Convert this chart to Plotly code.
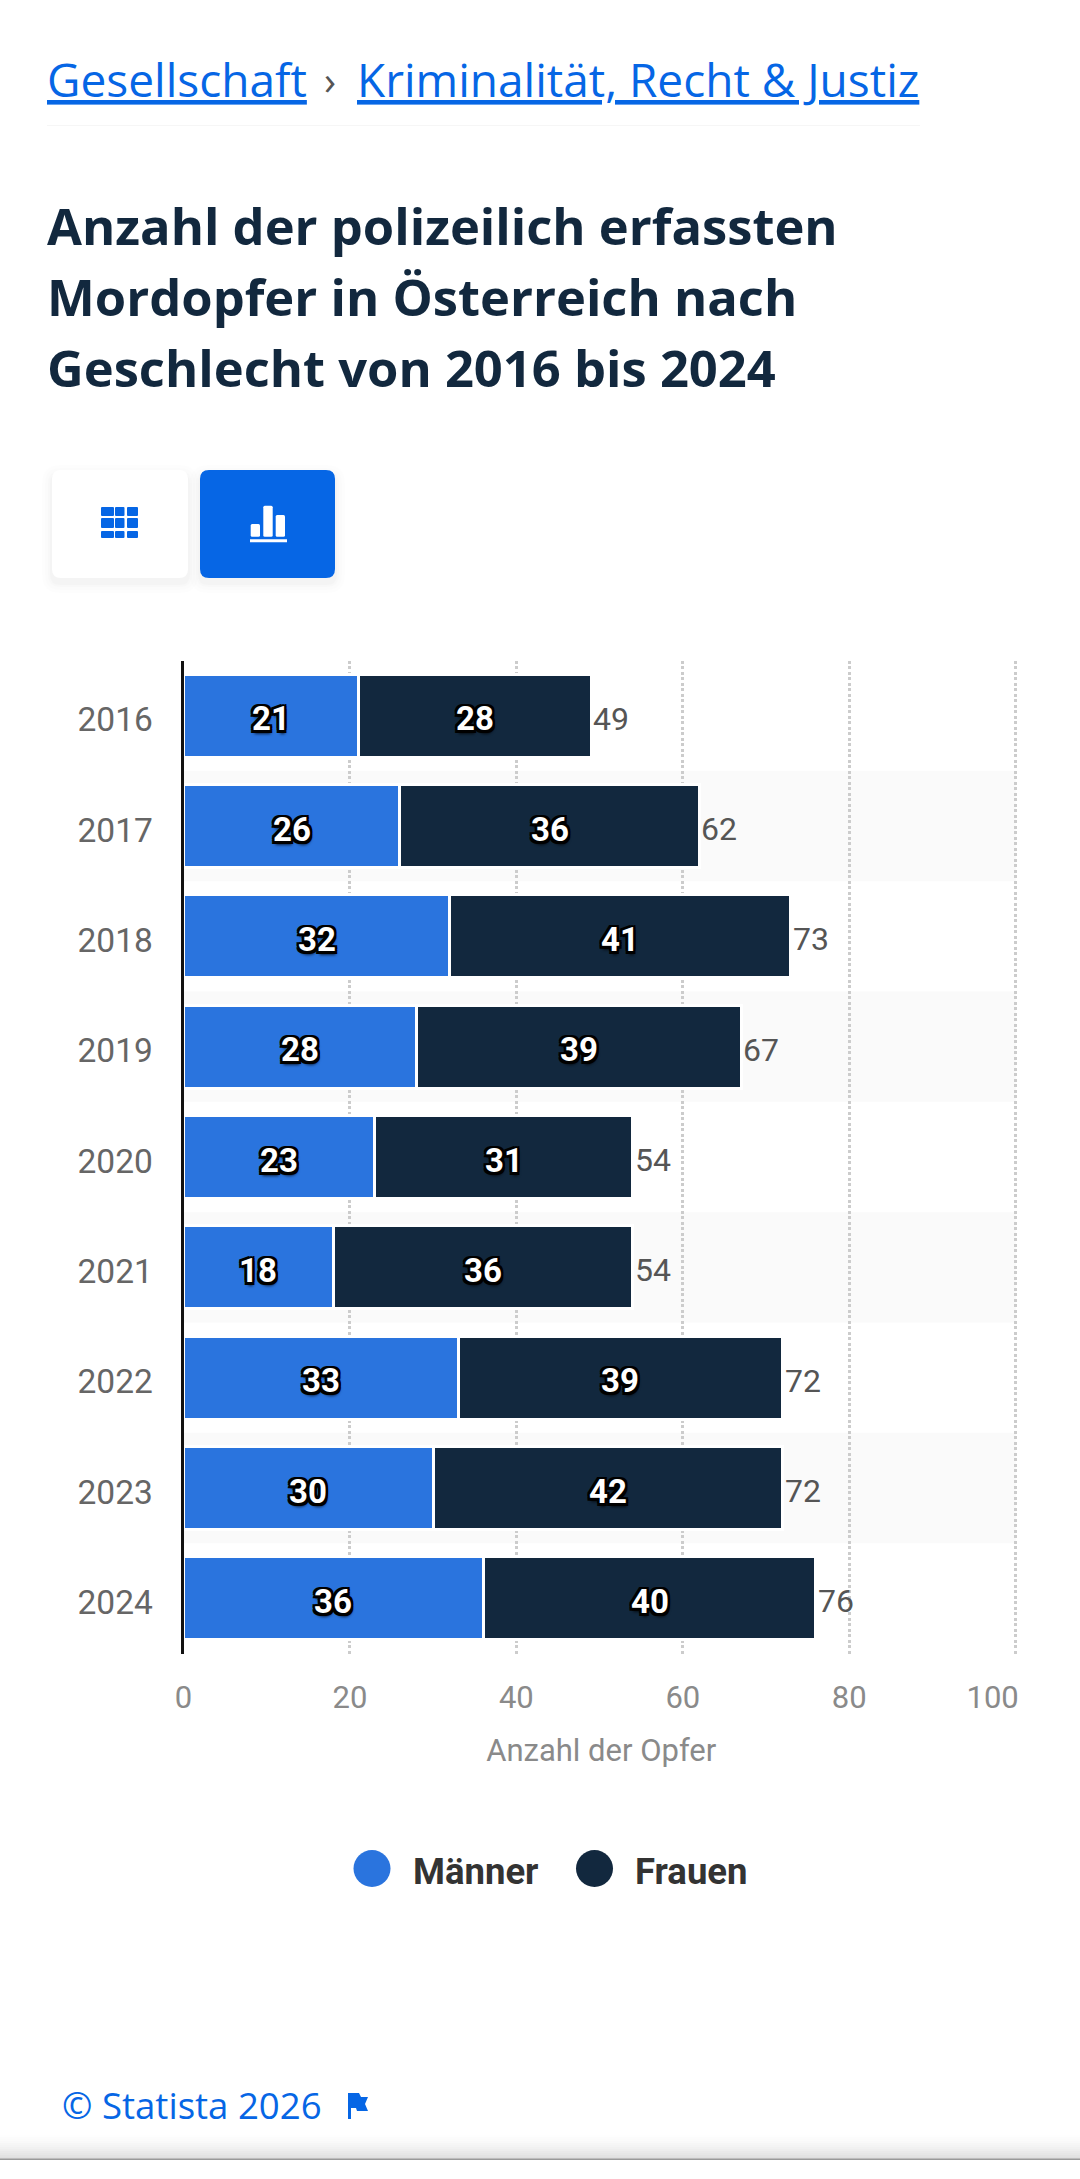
import plotly.graph_objects as go

YEARS = ["2016", "2017", "2018", "2019", "2020", "2021", "2022", "2023", "2024"]
MAENNER = [21, 26, 32, 28, 23, 18, 33, 30, 36]
FRAUEN = [28, 36, 41, 39, 31, 36, 39, 42, 40]
TOTALS = [49, 62, 73, 67, 54, 54, 72, 72, 76]
X_TICKS = [0, 20, 40, 60, 80, 100]
X_TICK_LABELS = ["0", "20", "40", "60", "80", "100" + "\u00a0" * 6]
SERIES_NAMES = ["Männer", "Frauen"]
TITLE_LINES = ["Anzahl der polizeilich erfassten", "Mordopfer in Österreich nach", "Geschlecht von 2016 bis 2024"]
X_TITLE = "Anzahl der Opfer"

W, H = 1080, 2179
BLUE = "#2a74de"
NAVY = "#12283e"
LINK = "#0666e5"


def px(x):
    return x / W


def py(y):
    return 1 - y / H


def rect_path(x0, y0, x1, y1, r=0):
    X = lambda v: v / W
    Y = lambda v: 1 - v / H
    if r == 0:
        return f"M{X(x0)},{Y(y0)}L{X(x1)},{Y(y0)}L{X(x1)},{Y(y1)}L{X(x0)},{Y(y1)}Z"
    return (f"M{X(x0+r)},{Y(y0)}L{X(x1-r)},{Y(y0)}Q{X(x1)},{Y(y0)} {X(x1)},{Y(y0+r)}"
            f"L{X(x1)},{Y(y1-r)}Q{X(x1)},{Y(y1)} {X(x1-r)},{Y(y1)}"
            f"L{X(x0+r)},{Y(y1)}Q{X(x0)},{Y(y1)} {X(x0)},{Y(y1-r)}"
            f"L{X(x0)},{Y(y0+r)}Q{X(x0)},{Y(y0)} {X(x0+r)},{Y(y0)}Z")


def box(x0, y0, x1, y1, color, r=0, layer="above"):
    return dict(type="path", xref="paper", yref="paper", path=rect_path(x0, y0, x1, y1, r),
                fillcolor=color, line=dict(width=0), layer=layer)


def label(text, x, y, size, color, family="Open Sans", bold=False, anchor="left", under=False):
    font = dict(family=family, size=size, color=color, weight=700 if bold else 400)
    if under:
        font["lineposition"] = "under"
    return dict(text=text, xref="paper", yref="paper", x=px(x), y=py(y), xanchor=anchor,
                yanchor="middle", showarrow=False, font=font, borderpad=0, borderwidth=0)


OUTLINE = ("-2.5px -2px 0 #000,2.5px -2px 0 #000,-2.5px 2.5px 0 #000,2.5px 2.5px 0 #000,"
           "0 -2.5px 0 #000,0 2.5px 0 #000,-2.5px 0 0 #000,2.5px 0 0 #000,1px 4px 3px rgba(0,0,0,.7)")
INNER_FONT = dict(family="Roboto", size=33, color="white", weight=700, shadow=OUTLINE)

fig = go.Figure()
for name, values, color in [(SERIES_NAMES[0], MAENNER, BLUE), (SERIES_NAMES[1], FRAUEN, NAVY)]:
    fig.add_trace(go.Bar(
        y=YEARS, x=values, name=name, orientation="h", marker=dict(color=color, line=dict(color="white", width=3)),
        showlegend=False, hoverinfo="x+y+name", cliponaxis=False))

shapes = []
# alternating row bands
for i in range(1, len(YEARS), 2):
    shapes.append(dict(type="rect", xref="x", yref="y", x0=0, x1=X_TICKS[-1], y0=i - 0.5, y1=i + 0.5,
                       fillcolor="#fafafa", line=dict(width=0), layer="below"))
# breadcrumb rule
shapes.append(box(47, 125, 920, 126, "#f6f6f6"))
# button shadows
for grow, alpha in [(10, .006), (7, .008), (4, .012), (2, .016)]:
    for x0, x1 in [(52, 188), (200, 335)]:
        shapes.append(box(x0 - grow, 470 - grow + 5, x1 + grow, 578 + grow + 5, f"rgba(0,0,0,{alpha})", 8 + grow))
shapes.append(box(52, 470, 188, 578, "white", 9))
shapes.append(box(200, 470, 335, 578, LINK, 9))
# grid icon
for cx0, cx1 in [(101, 114), (115, 124.5), (127, 138)]:
    for cy0, cy1 in [(507, 516), (518, 528), (531, 538)]:
        shapes.append(box(cx0, cy0, cx1, cy1, LINK, 1))
# bar icon
for bx0, bx1, top in [(250.7, 260, 524), (263.3, 272.7, 505.7), (275.7, 285, 515)]:
    shapes.append(box(bx0, top, bx1, 536.7, "white", 1.5))
shapes.append(box(250, 539.3, 287, 542.3, "white"))
# legend circles
for cx, color in [(372, BLUE), (594.5, NAVY)]:
    shapes.append(dict(type="circle", xref="paper", yref="paper", x0=px(cx - 18.5), x1=px(cx + 18.5),
                       y0=py(1868.5 + 18.5), y1=py(1868.5 - 18.5), fillcolor=color, line=dict(width=0)))
# flag icon
X = px
Y = py
shapes.append(dict(type="path", xref="paper", yref="paper", fillcolor=LINK, line=dict(width=0),
                   path=(f"M{X(348)},{Y(2093)}L{X(359)},{Y(2093)}L{X(361)},{Y(2097)}L{X(368)},{Y(2097)}"
                         f"L{X(365)},{Y(2104)}L{X(368)},{Y(2111)}L{X(357)},{Y(2111)}L{X(356)},{Y(2108)}"
                         f"L{X(351)},{Y(2108)}L{X(351)},{Y(2119)}L{X(348)},{Y(2119)}Z")))
# bottom fade
steps = 13
for k in range(steps):
    v = 255 - int(32 * ((k + 1) / steps) ** 1.6)
    shapes.append(box(0, 2133 + 2 * k, W, 2135 + 2 * k, f"rgb({v},{v},{v})"))
shapes.append(box(0, 2158.5, W, 2160, "#9a9a9a"))

annotations = [
    label("Gesellschaft", 47, 79.5, 46, LINK, under=True),
    label("›", 324, 79.5, 40, "#555555"),
    label("Kriminalität, Recht & Justiz", 357, 79.5, 46, LINK, under=True),
    label(TITLE_LINES[0], 46.5, 226, 50.7, NAVY, bold=True),
    label(TITLE_LINES[1], 46.5, 296, 50.7, NAVY, bold=True),
    label(TITLE_LINES[2], 46.5, 367, 50.7, NAVY, bold=True),
    label(SERIES_NAMES[0], 413, 1871, 36.5, "#333333", family="Roboto", bold=True),
    label(SERIES_NAMES[1], 635, 1871, 36.5, "#333333", family="Roboto", bold=True),
    label("© Statista 2026", 62, 2105, 36.6, LINK),
]
# value labels, placed from the data through the axes (numeric y = category index)
for row, (m, f, total) in enumerate(zip(MAENNER, FRAUEN, TOTALS)):
    for centre, value in [(m / 2, m), (m + f / 2, f)]:
        annotations.append(dict(text=str(value), xref="x", yref="y", x=centre, y=row, showarrow=False,
                                xanchor="center", yanchor="middle", yshift=-3, font=INNER_FONT))
    annotations.append(dict(text=str(total), xref="x", yref="y", x=total, y=row, showarrow=False,
                            xanchor="left", yanchor="middle", xshift=0, yshift=-3,
                            font=dict(family="Roboto", size=32, color="#555555")))

fig.update_layout(
    width=W, height=H, margin=dict(l=0, r=0, t=0, b=0, autoexpand=False),
    paper_bgcolor="white", plot_bgcolor="rgba(0,0,0,0)", barmode="stack", bargap=0.248,
    showlegend=False, shapes=shapes, annotations=annotations,
    xaxis=dict(domain=[183.5 / W, 1019 / W], range=[0, 100.4], tickmode="array", tickvals=X_TICKS,
               ticktext=X_TICK_LABELS, ticks="outside", ticklen=16, tickcolor="rgba(0,0,0,0)",
               showgrid=True, gridcolor="#cccccc", gridwidth=3, griddash="3px,2.5px", zeroline=False,
               showline=False, tickfont=dict(family="Roboto", size=31, color="#8a8a8a"),
               title=dict(text=X_TITLE, standoff=24, font=dict(family="Roboto", size=31, color="#8a8a8a")),
               automargin=False, fixedrange=True),
    yaxis=dict(domain=[1 - 1653.5 / H, 1 - 660.5 / H], type="category", categoryorder="array",
               categoryarray=YEARS, range=[8.5, -0.5], ticks="outside", ticklen=21, tickcolor="rgba(0,0,0,0)",
               ticklabelshift=-4, showgrid=False, zeroline=False, showline=True, linecolor="#111111", linewidth=3,
               tickfont=dict(family="Roboto", size=33.5, color="#666666"), automargin=False, fixedrange=True),
)

fig.write_html("out.html", config=dict(displayModeBar=False),
               post_script="document.body.style.margin='0';document.documentElement.style.overflow='hidden';")
